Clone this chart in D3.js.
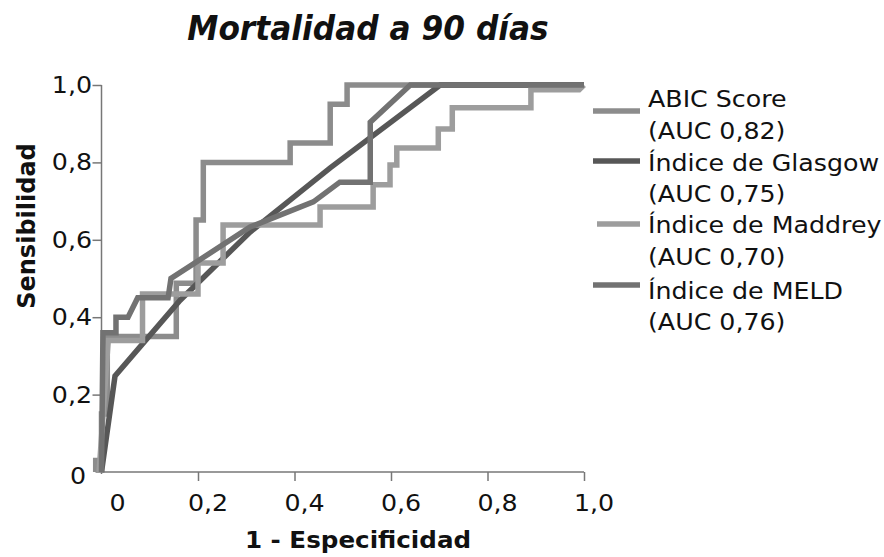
<!DOCTYPE html>
<html>
<head>
<meta charset="utf-8">
<script src="https://cdn.jsdelivr.net/npm/d3@7"></script>
<style>
  body { margin: 0; background: #fff; }
  svg { display: block; }
  text { font-family: "DejaVu Sans", Verdana, sans-serif; fill: #111; }
</style>
</head>
<body>
<svg id="chart" width="884" height="557"></svg>
<script>
// ROC curves, 1 - specificity (x) against sensitivity (y)
const seriesNames = ["ABIC Score", "Índice de Glasgow", "Índice de Maddrey", "Índice de MELD"];
const aucLabels = ["(AUC 0,82)", "(AUC 0,75)", "(AUC 0,70)", "(AUC 0,76)"];

const abicX = [-0.012, -0.012, 0, 0, 0.012, 0.012, 0.155, 0.155, 0.196, 0.196, 0.211, 0.211, 0.391, 0.391, 0.474, 0.474, 0.509, 0.509, 1];
const abicY = [0, 0.03, 0.03, 0.15, 0.15, 0.35, 0.35, 0.488, 0.488, 0.651, 0.651, 0.8, 0.8, 0.85, 0.85, 0.95, 0.95, 1, 1];

const glasgowX = [0, 0.028, 0.163, 0.308, 0.474, 0.702, 1];
const glasgowY = [0, 0.248, 0.444, 0.62, 0.786, 1, 1];

const maddreyX = [-0.005, 0.014, 0.014, 0.085, 0.085, 0.2, 0.2, 0.252, 0.252, 0.453, 0.453, 0.563, 0.563, 0.598, 0.598, 0.612, 0.612, 0.698, 0.698, 0.727, 0.727, 0.89, 0.89, 0.99, 1];
const maddreyY = [0, 0.34, 0.34, 0.34, 0.46, 0.46, 0.54, 0.54, 0.638, 0.638, 0.685, 0.685, 0.742, 0.742, 0.793, 0.793, 0.837, 0.837, 0.886, 0.886, 0.941, 0.941, 0.988, 0.988, 1];

const meldX = [0, 0.003, 0.03, 0.03, 0.055, 0.075, 0.138, 0.144, 0.308, 0.439, 0.494, 0.557, 0.557, 0.64, 1];
const meldY = [0, 0.36, 0.36, 0.40, 0.40, 0.45, 0.45, 0.50, 0.633, 0.698, 0.749, 0.749, 0.904, 1, 1];

const xTicks = [0, 0.2, 0.4, 0.6, 0.8, 1];
const yTicks = [0, 0.2, 0.4, 0.6, 0.8, 1];
const tickLabels = ["0", "0,2", "0,4", "0,6", "0,8", "1,0"];

const colors = ["#8c8c8c", "#575757", "#9d9d9d", "#727272"];

const svg = d3.select("#chart");
const stretch = 1.1; // the figure's text is wide, scale glyphs horizontally
const fontSize = 23;

const x = d3.scaleLinear().domain([0, 1]).range([101.5, 584]);
const y = d3.scaleLinear().domain([0, 1]).range([472, 85]);

// axes
const xAxis = svg.append("g")
    .attr("transform", `translate(0,${y(0)})`)
    .call(d3.axisBottom(x).tickValues(xTicks.slice(1)).tickSize(9).tickFormat(""));
const yAxis = svg.append("g")
    .attr("transform", `translate(${x(0)},0)`)
    .call(d3.axisLeft(y).tickValues(yTicks.slice(1)).tickSize(9).tickFormat(""));
[xAxis, yAxis].forEach(g => {
    g.select(".domain").attr("stroke", "#777").attr("stroke-width", 1.5);
    g.selectAll(".tick line").attr("stroke", "#777").attr("stroke-width", 1.5);
});
xAxis.select(".domain").attr("d", `M${x(0) - 6},0H${x(1)}`);
yAxis.select(".domain").attr("d", `M0,${y(1)}V${y(0) + 2}`);

// tick labels
svg.append("g").selectAll("text")
    .data(xTicks)
    .join("text")
    .attr("transform", (d, i) => `translate(${x(d) + (i === 0 ? 16 : 10)},511) scale(${stretch},1)`)
    .attr("text-anchor", "middle")
    .attr("font-size", fontSize)
    .text((d, i) => tickLabels[i]);

svg.append("g").selectAll("text")
    .data(yTicks)
    .join("text")
    .attr("transform", (d, i) => i === 0
        ? `translate(86,${y(d) + 12}) scale(${stretch},1)`
        : `translate(92,${y(d) + 8}) scale(${stretch},1)`)
    .attr("text-anchor", "end")
    .attr("font-size", fontSize)
    .text((d, i) => tickLabels[i]);

// axis titles and chart title
svg.append("text")
    .attr("transform", `translate(358,548) scale(1.07,1)`)
    .attr("text-anchor", "middle")
    .attr("font-size", 23)
    .attr("font-weight", "bold")
    .text("1 - Especificidad");

svg.append("text")
    .attr("transform", `translate(35,226) rotate(-90)`)
    .attr("text-anchor", "middle")
    .attr("font-size", 24)
    .attr("font-weight", "bold")
    .text("Sensibilidad");

svg.append("text")
    .attr("transform", "translate(368,40) scale(0.92,1)")
    .attr("text-anchor", "middle")
    .attr("font-family", "'Liberation Sans', Arial, sans-serif")
    .attr("font-size", 34)
    .attr("font-weight", "bold")
    .attr("font-style", "italic")
    .text("Mortalidad a 90 días");

// curves
const series = [
    { xs: abicX, ys: abicY },
    { xs: glasgowX, ys: glasgowY },
    { xs: maddreyX, ys: maddreyY },
    { xs: meldX, ys: meldY }
];
const line = d3.line().x(d => x(d[0])).y(d => y(d[1]));

svg.append("g")
    .selectAll("path")
    .data(series)
    .join("path")
    .attr("fill", "none")
    .attr("stroke", (d, i) => colors[i])
    .attr("stroke-width", 5.5)
    .attr("stroke-linejoin", "miter")
    .attr("d", d => line(d.xs.map((v, i) => [v, d.ys[i]])));

// legend
const legendRows = [
    { swatchY: 111, labelY: 107, aucY: 139, x0: 593 },
    { swatchY: 161, labelY: 171, aucY: 202, x0: 593 },
    { swatchY: 224, labelY: 233, aucY: 265, x0: 597 },
    { swatchY: 285, labelY: 299, aucY: 330, x0: 593 }
];
const legend = svg.append("g");
legend.selectAll("line")
    .data(seriesNames)
    .join("line")
    .attr("x1", (d, i) => legendRows[i].x0)
    .attr("x2", 640)
    .attr("y1", (d, i) => legendRows[i].swatchY)
    .attr("y2", (d, i) => legendRows[i].swatchY)
    .attr("stroke", (d, i) => colors[i])
    .attr("stroke-width", 5.5);
legend.selectAll("text.name")
    .data(seriesNames)
    .join("text")
    .attr("class", "name")
    .attr("transform", (d, i) => `translate(648,${legendRows[i].labelY}) scale(${stretch},1)`)
    .attr("font-size", fontSize)
    .text(d => d);
legend.selectAll("text.auc")
    .data(aucLabels)
    .join("text")
    .attr("class", "auc")
    .attr("transform", (d, i) => `translate(648,${legendRows[i].aucY}) scale(${stretch},1)`)
    .attr("font-size", fontSize)
    .text(d => d);
</script>
</body>
</html>
